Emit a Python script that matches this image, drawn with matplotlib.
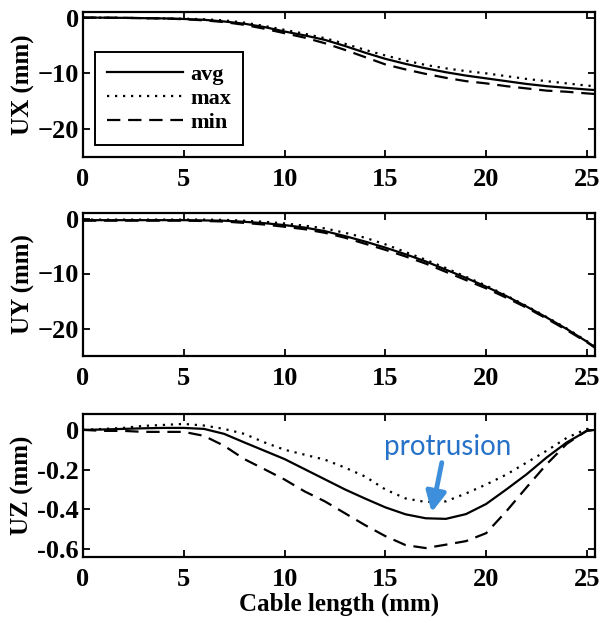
"""
Cable displacement profiles (UX, UY, UZ) along the cable length.
"""
import matplotlib
matplotlib.use('Agg')
import matplotlib.pyplot as plt

# ─────────────────────────────────────────────────────────────────────
# DATA
# ─────────────────────────────────────────────────────────────────────
cable_len = [0, 1, 2, 3, 4, 5, 6, 7, 8, 9, 10, 11, 12, 13, 14, 15, 16,
             17, 18, 19, 20, 21, 22, 23, 24, 25, 25.4]

ux_avg = [0, -0.02, -0.05, -0.1, -0.15, -0.25, -0.4, -0.7, -1.1, -1.7, -2.5,
          -3.2, -4.0, -5.1, -6.3, -7.4, -8.3, -9.1, -9.8, -10.4, -10.9,
          -11.4, -11.9, -12.3, -12.6, -12.9, -13.0]
ux_max = [0, -0.02, -0.05, -0.1, -0.15, -0.2, -0.3, -0.5, -0.9, -1.5, -2.2,
          -2.9, -3.7, -4.7, -5.8, -6.8, -7.7, -8.5, -9.1, -9.6, -10.0,
          -10.5, -11.0, -11.4, -11.8, -12.2, -12.3]
ux_min = [0, -0.02, -0.05, -0.1, -0.15, -0.3, -0.5, -0.8, -1.3, -2.0, -2.8,
          -3.6, -4.6, -5.8, -7.1, -8.4, -9.3, -10.1, -10.8, -11.4, -11.8,
          -12.3, -12.7, -13.1, -13.3, -13.6, -13.7]

uy_avg = [-0.3, -0.3, -0.3, -0.3, -0.3, -0.3, -0.35, -0.4, -0.6, -0.85, -1.2,
          -1.65, -2.3, -3.2, -4.2, -5.3, -6.5, -7.8, -9.3, -10.8, -12.4,
          -14.1, -16.0, -18.0, -20.1, -22.4, -23.4]
uy_max = [-0.2, -0.2, -0.2, -0.2, -0.2, -0.2, -0.2, -0.25, -0.4, -0.6, -0.9,
          -1.3, -1.8, -2.6, -3.5, -4.7, -6.1, -7.5, -9.0, -10.6, -12.2,
          -14.0, -15.9, -17.9, -20.0, -22.3, -23.3]
uy_min = [-0.4, -0.4, -0.4, -0.4, -0.4, -0.4, -0.45, -0.55, -0.8, -1.1, -1.5,
          -1.95, -2.6, -3.5, -4.6, -5.7, -6.9, -8.2, -9.7, -11.2, -12.7,
          -14.4, -16.2, -18.2, -20.3, -22.5, -23.5]

uz_avg = [0, 0.002, 0.005, 0.008, 0.01, 0.01, 0.005, -0.02, -0.063, -0.105,
          -0.147, -0.198, -0.249, -0.30, -0.346, -0.39, -0.425, -0.445,
          -0.448, -0.424, -0.373, -0.30, -0.224, -0.139, -0.063, -0.005, 0]
uz_max = [0, 0.005, 0.01, 0.02, 0.025, 0.03, 0.022, 0.005, -0.02, -0.063,
          -0.1, -0.125, -0.15, -0.19, -0.235, -0.3, -0.345, -0.363, -0.36,
          -0.32, -0.275, -0.225, -0.165, -0.105, -0.04, 0.005, 0]
uz_min = [0, -0.005, -0.005, -0.01, -0.01, -0.01, -0.03, -0.08, -0.147,
          -0.198, -0.25, -0.31, -0.36, -0.42, -0.48, -0.535, -0.58, -0.595,
          -0.578, -0.56, -0.52, -0.41, -0.29, -0.173, -0.07, -0.003, 0]

x_ticks = [0, 5, 10, 15, 20, 25]
uxy_ticks = [0, -10, -20]
uz_ticks = [0, -0.2, -0.4, -0.6]
uz_tick_labels = ['0', '-0.2', '-0.4', '-0.6']

# ─────────────────────────────────────────────────────────────────────
# STYLING
# ─────────────────────────────────────────────────────────────────────
plt.rcParams.update({
    'font.family':      'serif',
    'font.serif':       ['Liberation Serif', 'DejaVu Serif'],
    'font.weight':      'bold',
    'axes.labelweight': 'bold',
    'font.size':        16,
    'axes.labelsize':   18,
    'xtick.labelsize':  19,
    'ytick.labelsize':  19,
    'axes.linewidth':   1.6,
    'xtick.direction':  'in',
    'ytick.direction':  'in',
    'xtick.top':        True,
    'ytick.right':      True,
    'xtick.major.size': 5,
    'ytick.major.size': 5,
    'xtick.major.width': 1.3,
    'ytick.major.width': 1.3,
    'xtick.major.pad':  8,
    'ytick.major.pad':  3,
})

LW = 1.6
DASH = (0, (6, 3.5))
DOT = (0, (1, 2.6))

fig = plt.figure(figsize=(6.01, 6.23), dpi=100)
W, H = 601, 623
left, right = 83 / W, 595 / W
panels = [(12, 157), (213, 356), (414, 557)]
axes = []
for top, bot in panels:
    axes.append(fig.add_axes([left, 1 - bot / H, right - left, (bot - top) / H]))

series = [
    (ux_avg, ux_max, ux_min, 'UX (mm)'),
    (uy_avg, uy_max, uy_min, 'UY (mm)'),
    (uz_avg, uz_max, uz_min, 'UZ (mm)'),
]

for ax, (avg, mx, mn, lab) in zip(axes, series):
    ax.plot(cable_len, avg, color='black', lw=LW, linestyle='-', label='avg')
    ax.plot(cable_len, mx, color='black', lw=LW, linestyle=DOT, label='max')
    ax.plot(cable_len, mn, color='black', lw=LW, linestyle=DASH, label='min')
    ax.set_xlim(0, 25.4)
    ax.set_xticks(x_ticks)
    ax.set_ylabel(lab, labelpad=2)

for ax in axes[:2]:
    ax.set_ylim(-25, 1)
    ax.set_yticks(uxy_ticks)

axes[2].set_ylim(-0.64, 0.08)
axes[2].set_yticks(uz_ticks)
axes[2].set_yticklabels(uz_tick_labels)
axes[2].set_xlabel('Cable length (mm)', labelpad=1)

leg = axes[0].legend(loc='lower left', bbox_to_anchor=(0.023, 0.083),
                     borderaxespad=0, handlelength=3.4, handletextpad=0.35,
                     labelspacing=0.15, borderpad=0.55, fancybox=False,
                     framealpha=1, edgecolor='black')
leg.get_frame().set_linewidth(1.4)

# callout for the protrusion in UZ
axes[2].annotate('', xy=(17.3, -0.415), xytext=(17.8, -0.165),
                 arrowprops=dict(arrowstyle='-|>', color='#3D8FDB', lw=3.5,
                                 mutation_scale=30, shrinkA=0, shrinkB=0))
axes[2].text(18.1, -0.085, 'protrusion', color='#2672C8', fontsize=20,
             fontweight='normal', family=['Lato', 'DejaVu Sans'],
             ha='center', va='center')

fig.savefig('out.png', dpi=100, facecolor='white')
